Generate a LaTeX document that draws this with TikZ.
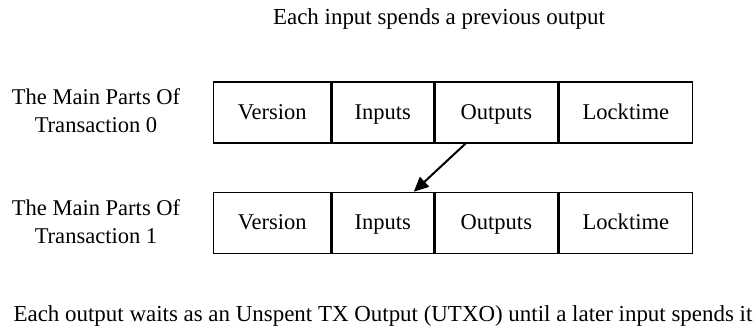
\documentclass[tikz,border=0pt]{standalone}
\usepackage{fontspec}
\setmainfont{Liberation Serif}
\usetikzlibrary{arrows.meta, positioning}
\tikzstyle{field} = [rectangle, 
minimum height=45.8pt,
text height=11.5pt,
text depth=1.7pt,
text centered, 
draw=black, 
line width=1.1pt,
font=\fontsize{16.9}{20}\selectfont]
\tikzstyle{rowlabel} = [align=center, 
font=\fontsize{16.9}{21.2}\selectfont]
\tikzstyle{note} = [anchor=base, 
inner sep=0pt,
font=\fontsize{17.2}{20}\selectfont]
\tikzstyle{arrow} = [line width=1.5pt,-{Triangle[length=11pt,width=10pt]}]

\begin{document}
\begin{tikzpicture} [x=0.75pt, y=-0.75pt]
		\useasboundingbox (0,0) rectangle (755,328);
		\node (title) [note] at (439,25) {Each input spends a previous output};
		% transaction 0
		\node (lbl0) [rowlabel] at (96,111) {The Main Parts Of\\Transaction 0};
		\node (ver0) [field, minimum width=87.8pt, anchor=west] at (213,112.5) {Version};
		\node (inp0) [field, minimum width=75.8pt, right=0pt of ver0] {Inputs};
		\node (out0) [field, minimum width=92.3pt, right=0pt of inp0] {Outputs};
		\node (lock0) [field, minimum width=99.8pt, right=0pt of out0] {Locktime};
		% transaction 1
		\node (lbl1) [rowlabel] at (96,222) {The Main Parts Of\\Transaction 1};
		\node (ver1) [field, minimum width=87.8pt, anchor=west] at (213,223) {Version};
		\node (inp1) [field, minimum width=75.8pt, right=0pt of ver1] {Inputs};
		\node (out1) [field, minimum width=92.3pt, right=0pt of inp1] {Outputs};
		\node (lock1) [field, minimum width=99.8pt, right=0pt of out1] {Locktime};
		\draw [arrow] ([xshift=-23.25pt]out0.south) -- ([xshift=23.25pt]inp1.north);
		\node (utxo) [note] at (383,321.7) {Each output waits as an Unspent TX Output (UTXO) until a later input spends it};
	\end{tikzpicture}
\end{document}
